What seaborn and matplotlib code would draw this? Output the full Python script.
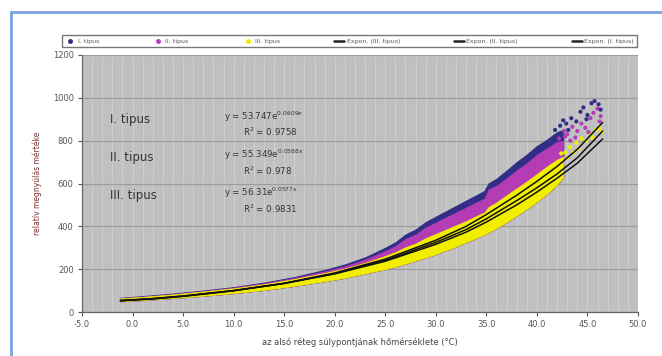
import matplotlib
matplotlib.use("Agg")
import matplotlib.pyplot as plt
import seaborn as sns
import pandas as pd
from matplotlib.lines import Line2D

# ---------------- data ----------------
band_x = [-1.2, 1, 4, 7, 10, 13, 16, 19, 21, 23, 25, 26, 27, 28, 29, 30, 31, 32, 33,
          34, 34.8, 35.2, 36, 37, 38, 39, 40, 41, 42, 42.6]
type1_top = [66, 74, 86, 100, 116, 137, 163, 196, 222, 255, 300, 325, 362, 385, 420, 445,
             470, 495, 520, 545, 565, 600, 622, 660, 700, 735, 775, 805, 840, 850]
type2_top = [65, 72, 84, 98, 114, 134, 159, 190, 214, 245, 285, 308, 342, 362, 395, 418,
             442, 465, 488, 512, 530, 572, 590, 625, 662, 695, 735, 765, 795, 800]
type3_top = [64, 71, 82, 96, 111, 130, 154, 182, 203, 230, 262, 280, 303, 320, 345, 365,
             385, 405, 425, 448, 465, 490, 512, 545, 578, 610, 645, 680, 712, 725]
type3_bottom = [50, 56, 65, 76, 88, 103, 122, 144, 160, 180, 200, 212, 226, 240, 255, 270,
                288, 306, 326, 346, 362, 372, 392, 420, 450, 482, 515, 552, 595, 630]

# loose points at the hot end
t1_x = [41.8, 42.3, 42.9, 43.1, 43.4, 43.9, 44.3, 44.6, 44.9, 45.0, 45.4, 45.7, 46.1, 46.3, 42.6]
t1_y = [850, 870, 880, 850, 905, 890, 935, 955, 900, 920, 975, 985, 970, 945, 895]
t2_x = [42.2, 42.8, 43.0, 43.5, 43.8, 44.0, 44.4, 44.8, 45.1, 45.3, 45.6, 46.0, 46.2, 46.3,
        42.7, 43.3]
t2_y = [810, 820, 830, 865, 815, 845, 880, 860, 840, 905, 930, 950, 890, 915, 845, 800]
t3_x = [42.4, 42.8, 43.3, 43.9, 44.1, 44.4, 44.9, 45.3, 45.5, 45.8, 46.2, 46.4, 43.0, 43.6]
t3_y = [740, 745, 770, 790, 760, 810, 800, 830, 815, 850, 860, 840, 720, 745]

# exponential trend lines
fit_x = [-1.2, 2, 5, 10, 15, 20, 25, 30, 33, 35, 38, 40, 42, 44, 46.5]
fit1_y = [52, 61, 73, 99, 134, 182, 247, 335, 400, 455, 545, 610, 680, 760, 885]
fit2_y = [53, 62, 74, 100, 134, 180, 241, 325, 385, 435, 520, 580, 645, 720, 845]
fit3_y = [54, 63, 75, 100, 133, 178, 237, 316, 373, 420, 500, 560, 625, 695, 808]

labels = ["I. tipus", "II. tipus", "III. tipus",
          "Expon. (III. tipus)", "Expon. (II. tipus)", "Expon. (I. tipus)"]
equations = [r"y = 53.747e$^{0.0609x}$", r"y = 55.349e$^{0.0588x}$", r"y = 56.31e$^{0.0577x}$"]
r2_texts = [r"R$^2$ = 0.9758", r"R$^2$ = 0.978", r"R$^2$ = 0.9831"]
x_ticks = [-5, 0, 5, 10, 15, 20, 25, 30, 35, 40, 45, 50]
y_ticks = [0, 200, 400, 600, 800, 1000, 1200]

# ---------------- styling ----------------
sns.set_theme(style="white")
plt.rcParams['font.family'] = ['DejaVu Sans']

C1, C2, C3 = "#302e86", "#b43cb4", "#f2ee00"
BG = "#c0c0c0"

fig = plt.figure(figsize=(6.62, 3.56), dpi=100)
ax = fig.add_axes([82 / 662, 1 - 312 / 356, (638 - 82) / 662, (312 - 55) / 356])
ax.set_facecolor(BG)

# grid
for xv in range(-5, 51):
    ax.axvline(xv, color="#d2d2d2", lw=0.6, zorder=0.5)
for yv in y_ticks[1:]:
    ax.axhline(yv, color="#9c9c9c", lw=0.9, zorder=0.6)

# dense point clouds as bands
ax.fill_between(band_x, type3_bottom, type1_top, color=C1, lw=0.8, edgecolor=C1, zorder=1)
ax.fill_between(band_x, type3_bottom, type2_top, color=C2, lw=0.5, edgecolor=C2, zorder=1.1)
ax.fill_between(band_x, type3_bottom, type3_top, color=C3, lw=0.5, edgecolor=C3, zorder=1.2)

# loose points
sns.scatterplot(x=t3_x, y=t3_y, ax=ax, color=C3, s=9, edgecolor="none", zorder=1.3)
sns.scatterplot(x=t2_x, y=t2_y, ax=ax, color=C2, s=9, edgecolor="none", zorder=1.4)
sns.scatterplot(x=t1_x, y=t1_y, ax=ax, color=C1, s=9, edgecolor="none", zorder=1.5)

# trend lines
for fy in (fit3_y, fit2_y, fit1_y):
    sns.lineplot(x=fit_x, y=fy, ax=ax, color="#111111", lw=1.1, zorder=2)

ax.set_xlim(-5, 50)
ax.set_ylim(0, 1200)
ax.set_xticks(x_ticks)
ax.set_xticklabels([f"{v:.1f}" for v in x_ticks])
ax.set_yticks(y_ticks)
ax.tick_params(axis="both", labelsize=6, colors="#555555", length=3, width=0.8,
               direction="out", pad=3)
ax.tick_params(axis="x", bottom=True)
ax.tick_params(axis="y", left=True)
for s in ("top", "right"):
    ax.spines[s].set_visible(False)
for s in ("left", "bottom"):
    ax.spines[s].set_color("#666666")
    ax.spines[s].set_linewidth(0.9)

ax.set_xlabel("az alsó réteg súlypontjának hőmérséklete (°C)", fontsize=6,
              color="#444444", labelpad=6)
ax.set_ylabel("relatív megnyúlás mértéke", fontsize=5.5, color="#7a3030", labelpad=8)

# annotations
type_y = [120, 157, 196]
eq_y = [117, 155, 193]
r2_y = [132, 171, 209]
for i in range(3):
    fig.text(110 / 662, 1 - type_y[i] / 356, labels[i],
             fontsize=8.5, color="#333333", va="center", ha="left")
    fig.text(224 / 662, 1 - eq_y[i] / 356, equations[i], fontsize=6.2,
             color="#333333", va="center", ha="left")
    fig.text(243 / 662, 1 - r2_y[i] / 356, r2_texts[i], fontsize=6.2,
             color="#333333", va="center", ha="left")

# legend
handles = [
    Line2D([], [], ls="none", marker="o", ms=2.5, color=C1),
    Line2D([], [], ls="none", marker="o", ms=2.5, color=C2),
    Line2D([], [], ls="none", marker="o", ms=2.5, color=C3),
    Line2D([], [], color="#222222", lw=1.8),
    Line2D([], [], color="#222222", lw=1.8),
    Line2D([], [], color="#222222", lw=1.8),
]
leg = fig.legend(handles, labels, loc="lower left", ncol=6, mode="expand",
                 bbox_to_anchor=(62 / 662, 1 - 47 / 356, (637 - 62) / 662, 17 / 356),
                 fontsize=4.5, frameon=True, fancybox=False, borderaxespad=0,
                 handlelength=1.6, handletextpad=0.4, borderpad=0.5)
leg.get_frame().set_edgecolor("#555555")
leg.get_frame().set_linewidth(1.0)
for t in leg.get_texts():
    t.set_color("#555555")

# blue frame (top and left)
fig.add_artist(Line2D([11 / 662, 1.0], [1 - 12 / 356, 1 - 12 / 356],
                      transform=fig.transFigure, color="#7aa2dc", lw=2))
fig.add_artist(Line2D([11 / 662, 11 / 662], [0, 1 - 12 / 356],
                      transform=fig.transFigure, color="#7aa2dc", lw=2))

fig.savefig("out.png", dpi=100)
